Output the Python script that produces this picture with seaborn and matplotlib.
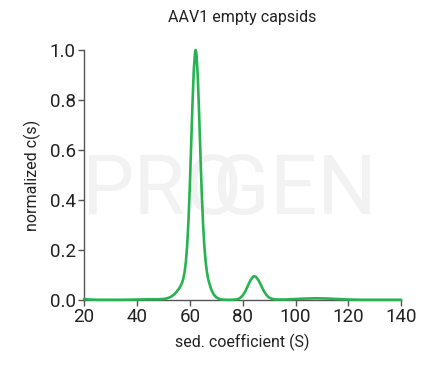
"""c(s) distribution of AAV1 empty capsids (sedimentation velocity AUC)."""

import matplotlib.pyplot as plt
import pandas as pd
import seaborn as sns

TITLE = "AAV1 empty capsids"
X_LABEL = "sed. coefficient (S)"
Y_LABEL = "normalized c(s)"
LINE_COLOR = "#27b352"

# sedimentation coefficient (S)
sed_s = [
    20, 22, 25, 30, 35, 40, 44, 48, 50, 51, 52, 53, 54, 55, 56, 57, 57.5,
    58, 58.5, 59, 59.5, 60, 60.5, 61, 61.5, 62, 62.2, 62.5, 63, 63.5, 64,
    64.5, 65, 65.5, 66, 66.5, 67, 68, 69, 70, 71, 72, 74, 76, 77, 78, 79,
    80, 81, 82, 83, 84, 84.4, 85, 86, 87, 88, 89, 90, 91, 92, 93, 96, 100,
    104, 108, 112, 116, 120, 125, 130, 135, 140,
]
# normalized c(s)
c_s = [
    0.004, 0.002, 0.001, 0.001, 0.001, 0.002, 0.003, 0.003, 0.004, 0.006,
    0.009, 0.014, 0.022, 0.033, 0.047, 0.067, 0.084, 0.110, 0.153, 0.220,
    0.321, 0.457, 0.619, 0.785, 0.920, 0.993, 1.000, 0.984, 0.895, 0.750,
    0.585, 0.430, 0.305, 0.214, 0.152, 0.110, 0.081, 0.045, 0.023, 0.011,
    0.005, 0.002, 0.001, 0.001, 0.002, 0.003, 0.008, 0.018, 0.035, 0.058,
    0.080, 0.094, 0.095, 0.093, 0.079, 0.058, 0.036, 0.020, 0.010, 0.005,
    0.003, 0.002, 0.002, 0.004, 0.006, 0.007, 0.006, 0.004, 0.002, 0.001,
    0.001, 0.001, 0.001,
]

X_TICKS = [20, 40, 60, 80, 100, 120, 140]
Y_TICKS = [0.0, 0.2, 0.4, 0.6, 0.8, 1.0]

df = pd.DataFrame({"sed": sed_s, "cs": c_s})

sns.set_style("ticks")
plt.rcParams["font.family"] = ["Roboto", "DejaVu Sans"]

fig = plt.figure(figsize=(4.25, 3.65), dpi=100)
ax = fig.add_axes([0.198, 0.178, 0.746, 0.685])

# faint watermark behind the data (the O and G overlap in the logo)
for txt, xpos in [("PRO", -0.01), ("GEN", 0.405)]:
    ax.text(xpos, 0.435, txt, transform=ax.transAxes, fontsize=60,
            color="#f2f2f2", ha="left", va="center", zorder=0)

sns.lineplot(data=df, x="sed", y="cs", color=LINE_COLOR, linewidth=1.9,
             ax=ax, zorder=3)
for line in ax.lines:
    line.set_clip_on(False)

ax.set_xlim(20, 140)
ax.set_ylim(0, 1.0)
ax.set_xticks(X_TICKS)
ax.set_yticks(Y_TICKS)
ax.set_yticklabels([f"{v:.1f}" for v in Y_TICKS])
ax.tick_params(labelsize=13.5, length=4, width=1, color="#555555",
               labelcolor="#222222", pad=2)
for side in ("left", "bottom"):
    ax.spines[side].set_color("#555555")
    ax.spines[side].set_linewidth(1)
ax.spines["top"].set_visible(False)
ax.spines["right"].set_visible(False)

ax.set_xlabel(X_LABEL, fontsize=11.5, color="#222222", labelpad=5)
ax.set_ylabel(Y_LABEL, fontsize=11.5, color="#222222", labelpad=6)
ax.set_title(TITLE, fontsize=11.5, color="#222222", pad=20)

fig.savefig("out.png", dpi=100)
plt.close(fig)
